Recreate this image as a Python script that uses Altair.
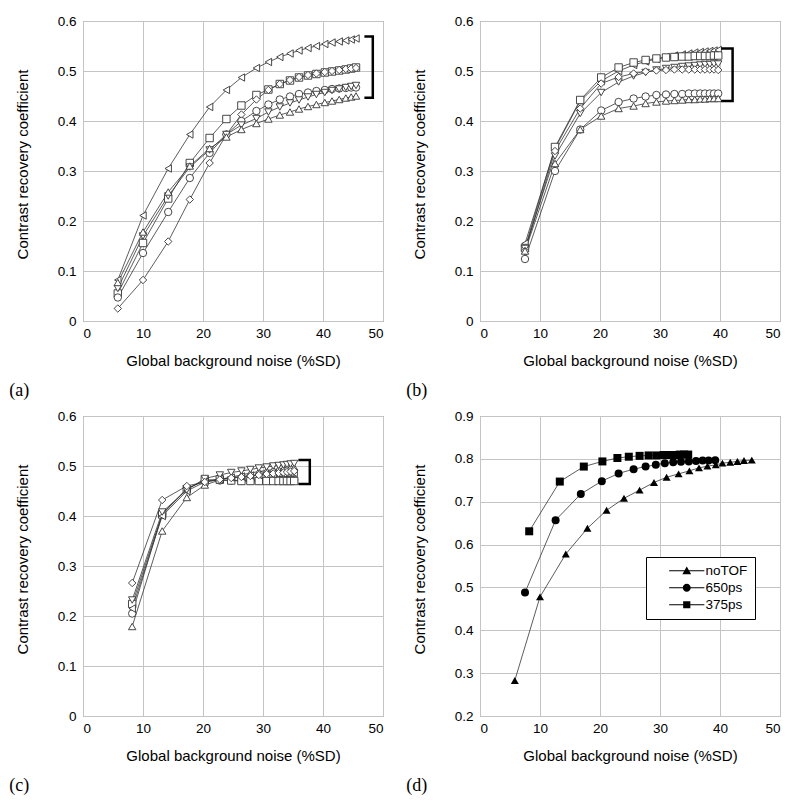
import altair as alt
import pandas as pd

# ---------------- data ----------------
# Panel (a)
a_x = [5.8, 10.0, 14.2, 17.8, 21.1, 23.9, 26.4, 28.9, 30.9, 32.8, 34.5, 36.0, 37.5, 38.9, 40.3, 41.5, 42.7, 43.8, 44.7, 45.5]
a_tl = [0.082, 0.211, 0.305, 0.373, 0.428, 0.462, 0.487, 0.506, 0.518, 0.528, 0.535, 0.541, 0.546, 0.550, 0.554, 0.557, 0.559, 0.561, 0.563, 0.565]
a_sq = [0.055, 0.156, 0.245, 0.316, 0.366, 0.404, 0.431, 0.452, 0.463, 0.474, 0.481, 0.487, 0.491, 0.494, 0.497, 0.499, 0.501, 0.503, 0.505, 0.507]
a_di = [0.025, 0.082, 0.159, 0.243, 0.316, 0.373, 0.413, 0.443, 0.462, 0.474, 0.482, 0.488, 0.492, 0.495, 0.498, 0.500, 0.502, 0.504, 0.505, 0.506]
a_ci = [0.047, 0.136, 0.218, 0.286, 0.336, 0.373, 0.400, 0.420, 0.433, 0.443, 0.449, 0.454, 0.457, 0.460, 0.462, 0.464, 0.465, 0.466, 0.467, 0.467]
a_td = [0.065, 0.170, 0.250, 0.308, 0.342, 0.373, 0.392, 0.405, 0.418, 0.428, 0.436, 0.442, 0.448, 0.453, 0.457, 0.461, 0.464, 0.467, 0.469, 0.471]
a_tu = [0.077, 0.178, 0.258, 0.310, 0.345, 0.368, 0.383, 0.395, 0.404, 0.412, 0.418, 0.424, 0.429, 0.433, 0.437, 0.440, 0.443, 0.446, 0.448, 0.450]
a_bracket_x = [46.9, 48.3, 48.3, 46.9]
a_bracket_y = [0.569, 0.569, 0.4465, 0.4465]

# Panel (b)
b_x = [7.5, 12.5, 16.7, 20.2, 23.1, 25.6, 27.6, 29.4, 31.0, 32.4, 33.7, 34.8, 35.8, 36.7, 37.5, 38.3, 39.0, 39.7]
b_tl = [0.155, 0.345, 0.440, 0.480, 0.500, 0.512, 0.519, 0.524, 0.528, 0.531, 0.533, 0.535, 0.537, 0.538, 0.539, 0.540, 0.541, 0.542]
b_sq = [0.146, 0.348, 0.442, 0.487, 0.507, 0.517, 0.522, 0.525, 0.527, 0.528, 0.529, 0.529, 0.530, 0.530, 0.530, 0.530, 0.531, 0.531]
b_td = [0.145, 0.330, 0.415, 0.457, 0.478, 0.490, 0.497, 0.502, 0.505, 0.507, 0.509, 0.510, 0.511, 0.512, 0.513, 0.513, 0.514, 0.514]
b_di = [0.140, 0.340, 0.425, 0.475, 0.488, 0.495, 0.499, 0.501, 0.502, 0.503, 0.503, 0.503, 0.503, 0.503, 0.503, 0.503, 0.503, 0.502]
b_ci = [0.124, 0.300, 0.383, 0.421, 0.438, 0.445, 0.449, 0.452, 0.453, 0.454, 0.454, 0.455, 0.455, 0.455, 0.455, 0.455, 0.455, 0.455]
b_tu = [0.140, 0.315, 0.383, 0.410, 0.425, 0.430, 0.435, 0.438, 0.440, 0.441, 0.442, 0.443, 0.443, 0.444, 0.444, 0.445, 0.445, 0.445]
b_bracket_x = [40.2, 42.1, 42.1, 40.2]
b_bracket_y = [0.545, 0.545, 0.440, 0.440]

# Panel (c)
c_x = [8.2, 13.2, 17.3, 20.3, 22.8, 24.7, 26.4, 27.9, 29.3, 30.6, 31.7, 32.6, 33.4, 34.0, 34.6, 35.2]
c_tu = [0.179, 0.370, 0.437, 0.462, 0.472, 0.478, 0.482, 0.486, 0.489, 0.491, 0.493, 0.494, 0.495, 0.496, 0.497, 0.497]
c_ci = [0.205, 0.404, 0.455, 0.470, 0.471, 0.471, 0.471, 0.471, 0.472, 0.472, 0.472, 0.472, 0.472, 0.472, 0.472, 0.472]
c_sq = [0.224, 0.403, 0.454, 0.472, 0.473, 0.471, 0.470, 0.470, 0.470, 0.470, 0.470, 0.470, 0.470, 0.470, 0.470, 0.470]
c_tl = [0.215, 0.400, 0.450, 0.468, 0.474, 0.477, 0.479, 0.481, 0.482, 0.483, 0.484, 0.485, 0.485, 0.486, 0.486, 0.486]
c_td = [0.232, 0.408, 0.452, 0.475, 0.482, 0.487, 0.490, 0.493, 0.496, 0.498, 0.500, 0.501, 0.502, 0.503, 0.504, 0.505]
c_di = [0.266, 0.432, 0.460, 0.468, 0.473, 0.476, 0.478, 0.480, 0.482, 0.484, 0.485, 0.486, 0.487, 0.488, 0.489, 0.490]
c_bracket_x = [35.9, 37.8, 37.8, 35.9]
c_bracket_y = [0.512, 0.512, 0.464, 0.464]

# Panel (d)
d_names = ["noTOF", "650ps", "375ps"]
d_notof_x = [5.8, 10.0, 14.3, 17.9, 21.1, 24.0, 26.6, 29.0, 31.1, 33.1, 34.9, 36.5, 37.9, 39.3, 40.4, 41.7, 42.9, 44.0, 45.3]
d_notof_y = [0.283, 0.478, 0.578, 0.638, 0.680, 0.708, 0.727, 0.745, 0.757, 0.765, 0.772, 0.779, 0.783, 0.786, 0.790, 0.792, 0.794, 0.796, 0.797]
d_650_x = [7.5, 12.6, 16.8, 20.3, 23.1, 25.6, 27.6, 29.3, 30.8, 32.2, 33.5, 34.8, 36.0, 37.1, 38.1, 39.2]
d_650_y = [0.488, 0.657, 0.718, 0.748, 0.766, 0.776, 0.782, 0.786, 0.790, 0.792, 0.793, 0.794, 0.795, 0.796, 0.796, 0.797]
d_375_x = [8.2, 13.3, 17.3, 20.4, 22.9, 24.8, 26.6, 28.1, 29.4, 30.6, 31.6, 32.5, 33.3, 34.0, 34.7]
d_375_y = [0.631, 0.747, 0.782, 0.794, 0.802, 0.805, 0.807, 0.808, 0.808, 0.809, 0.809, 0.809, 0.810, 0.810, 0.810]

x_ticks = [0, 10, 20, 30, 40, 50]
y_ticks_abc = [0, 0.1, 0.2, 0.3, 0.4, 0.5, 0.6]
y_ticks_d = [0.2, 0.3, 0.4, 0.5, 0.6, 0.7, 0.8, 0.9]

# ---------------- styling ----------------
LINE = "#333333"
OPEN_SHAPES = {
    "tl": "triangle-left", "sq": "square", "di": "diamond",
    "ci": "circle", "td": "triangle-down", "tu": "triangle-up",
}
# legend glyphs: a thin filled bar (the line) plus the filled marker
BAR = "M-4.4,-0.12L4.4,-0.12L4.4,0.12L-4.4,0.12Z"
LEGEND_PATHS = [
    BAR + "M0,-1.05L1.1,0.85L-1.1,0.85Z",
    BAR + "M1,0A1,1 0 1,1 -1,0A1,1 0 1,1 1,0Z",
    BAR + "M-0.9,-0.9L0.9,-0.9L0.9,0.9L-0.9,0.9Z",
]
PLOT_SHAPES_D = ["triangle-up", "circle", "square"]


def long_df(x, series):
    rows = []
    for name, ys in series.items():
        for xi, yi in zip(x, ys):
            rows.append({"x": xi, "y": yi, "s": name})
    return pd.DataFrame(rows)


def enc_x():
    return alt.X("x:Q", scale=alt.Scale(domain=[0, 50], nice=False),
                 axis=alt.Axis(values=x_ticks, title="Global background noise (%SD)"))


def enc_y(dom, vals):
    return alt.Y("y:Q", scale=alt.Scale(domain=dom, nice=False, zero=False),
                 axis=alt.Axis(values=vals, title="Contrast recovery coefficient",
                               labelExpr="datum.value == 0 ? '0' : format(datum.value, '.1f')",
                               titleY=143))


def panel_title(txt):
    return alt.TitleParams(txt, orient="bottom", anchor="start", frame="bounds",
                           font="Liberation Serif", fontSize=18, fontWeight="normal",
                           color="black", offset=13, dx=-6)


def open_panel(df, bx, by, label):
    names = list(df["s"].unique())
    x = enc_x()
    y = enc_y([0, 0.6], y_ticks_abc)
    lines = alt.Chart(df).mark_line(color=LINE, strokeWidth=0.8).encode(x=x, y=y, detail="s:N")
    pts = alt.Chart(df).mark_point(filled=True, fill="white", stroke=LINE, strokeWidth=0.9,
                                   size=55, opacity=1).encode(
        x=x, y=y,
        shape=alt.Shape("s:N", scale=alt.Scale(domain=names, range=[OPEN_SHAPES[n] for n in names]),
                        legend=None))
    br = pd.DataFrame({"x": bx, "y": by, "o": list(range(len(bx)))})
    bracket = alt.Chart(br).mark_line(color="black", strokeWidth=2.5).encode(x=x, y=y, order="o:Q")
    return alt.layer(lines, pts, bracket).properties(width=300, height=300, title=panel_title(label))


df_a = long_df(a_x, {"tl": a_tl, "sq": a_sq, "di": a_di, "ci": a_ci, "td": a_td, "tu": a_tu})
df_b = long_df(b_x, {"tl": b_tl, "sq": b_sq, "td": b_td, "di": b_di, "ci": b_ci, "tu": b_tu})
df_c = long_df(c_x, {"tu": c_tu, "ci": c_ci, "sq": c_sq, "tl": c_tl, "td": c_td, "di": c_di})

pa = open_panel(df_a, a_bracket_x, a_bracket_y, "(a)")
pb = open_panel(df_b, b_bracket_x, b_bracket_y, "(b)")
pc = open_panel(df_c, c_bracket_x, c_bracket_y, "(c)")

rows = []
for name, xs, ys in [("noTOF", d_notof_x, d_notof_y), ("650ps", d_650_x, d_650_y), ("375ps", d_375_x, d_375_y)]:
    for xi, yi in zip(xs, ys):
        rows.append({"x": xi, "y": yi, "s": name})
df_d = pd.DataFrame(rows)

xd = enc_x()
yd = enc_y([0.2, 0.9], y_ticks_d)
d_lines = alt.Chart(df_d).mark_line(color=LINE, strokeWidth=0.8).encode(x=xd, y=yd, detail="s:N")
d_pts = alt.Chart(df_d).mark_point(filled=True, color="black", size=64, opacity=1).encode(
    x=xd, y=yd,
    shape=alt.Shape("s:N", scale=alt.Scale(domain=d_names, range=PLOT_SHAPES_D), legend=None))
d_leg = alt.Chart(df_d).transform_filter("datum.x < -100").mark_point(
    filled=False, color="black", fill="black", stroke="black", strokeWidth=1, size=64, opacity=1).encode(
    x=xd, y=yd,
    shape=alt.Shape("s:N", scale=alt.Scale(domain=d_names, range=LEGEND_PATHS),
                    legend=alt.Legend(title=None, orient="none", legendX=166, legendY=141,
                                      strokeColor="black", fillColor="white", padding=7,
                                      labelFont="Liberation Sans", labelFontSize=13.5,
                                      labelColor="black", symbolSize=64,
                                      symbolStrokeColor="black", symbolFillColor="black",
                                      symbolStrokeWidth=0, symbolOffset=27, labelOffset=12,
                                      rowPadding=2, symbolOpacity=1)))
pd_chart = alt.layer(d_lines, d_pts, d_leg).resolve_scale(shape="independent").properties(
    width=300, height=300, title=panel_title("(d)"))

chart = alt.vconcat(
    alt.hconcat(pa, pb, spacing=21),
    alt.hconcat(pc, pd_chart, spacing=21),
    spacing=8,
).properties(padding={"left": 0, "top": 5, "right": 5, "bottom": 5}).configure_view(
    stroke="#808080", strokeWidth=1
).configure_axis(
    grid=True, gridColor="#c4c4c4", gridWidth=1, domain=False, ticks=False,
    labelFont="Liberation Sans", labelFontSize=13.5, labelColor="black",
    titleFont="Liberation Sans", titleFontSize=15, titleFontWeight="normal", titleColor="black",
).configure_axisX(labelPadding=5, titlePadding=14).configure_axisY(labelPadding=7, titlePadding=27)

chart.save("out.html", embed_options={"renderer": "svg", "actions": False})
